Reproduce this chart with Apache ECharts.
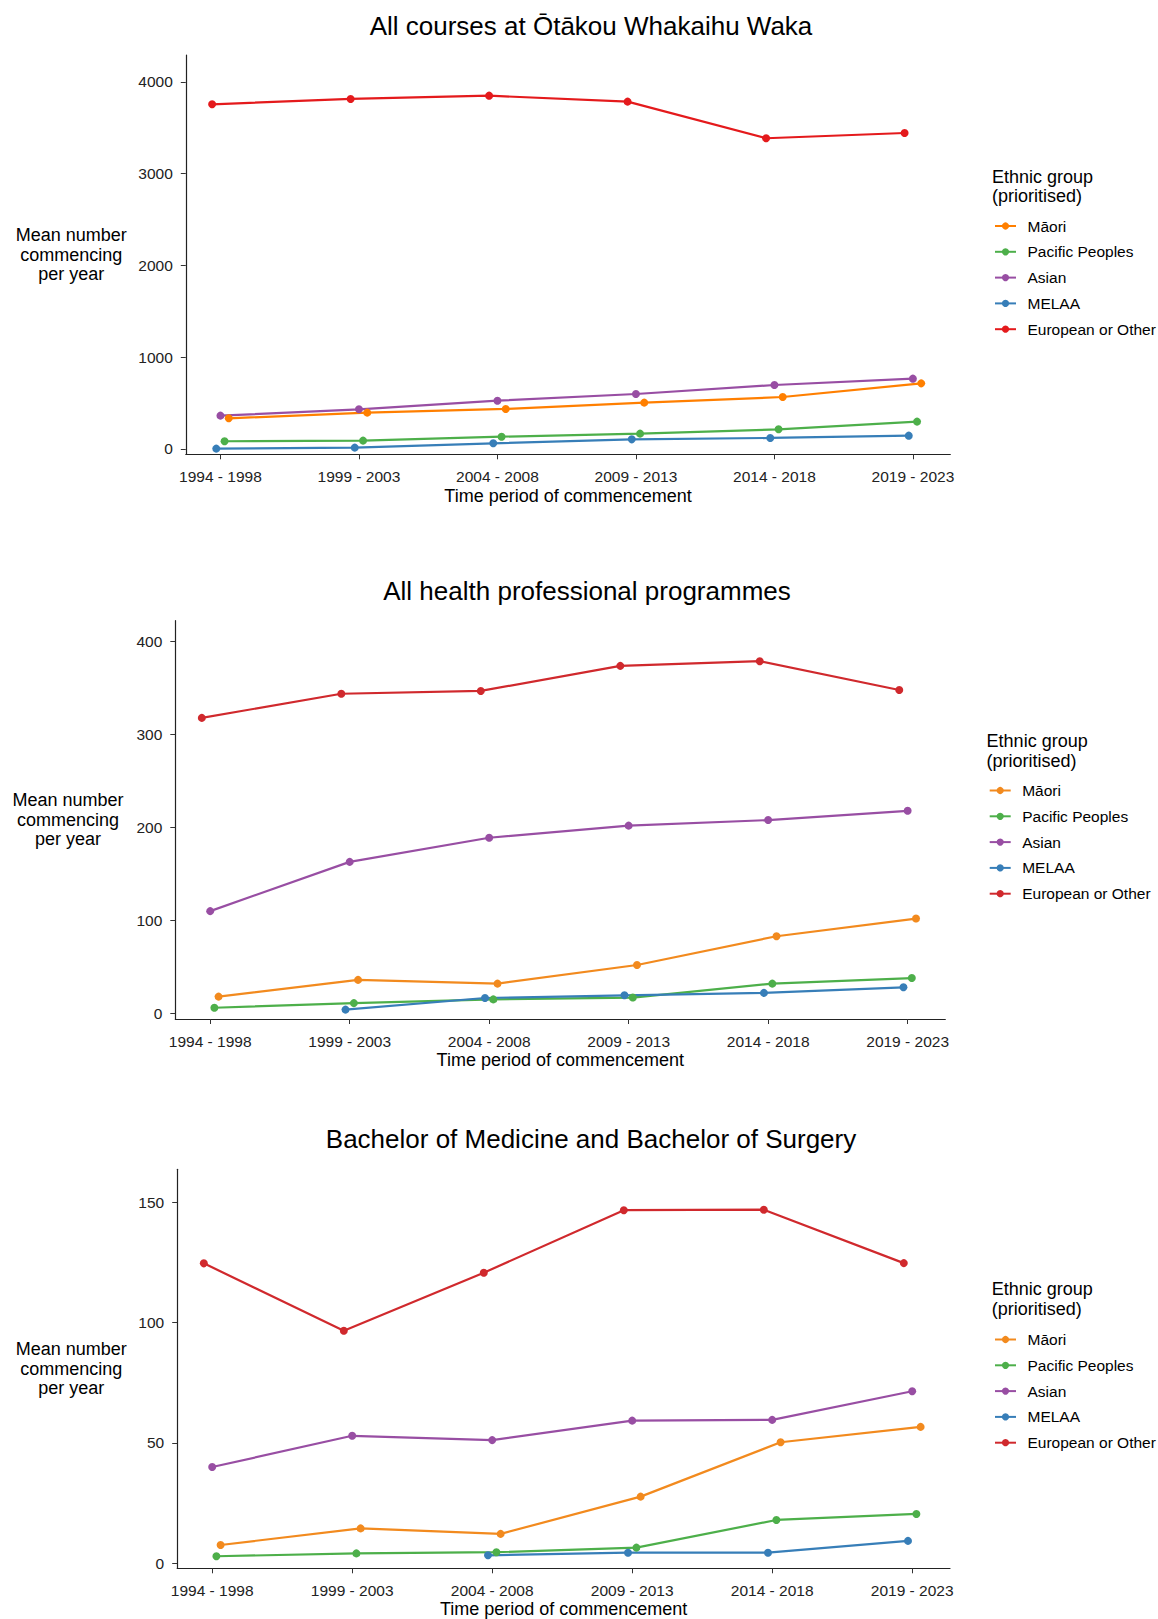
<!DOCTYPE html>
<html>
<head>
<meta charset="utf-8">
<title>Commencing students by ethnic group</title>
<script src="https://cdn.jsdelivr.net/npm/echarts@6/dist/echarts.min.js"></script>
<style>
  html, body { margin: 0; padding: 0; background: #ffffff; }
  #wrap { position: relative; width: 1158px; height: 1619px; }
  .panel { position: absolute; left: 0; width: 1158px; }
</style>
</head>
<body>
<div id="wrap">
  <div id="p1" class="panel" style="top:0;height:545px"></div>
  <div id="p2" class="panel" style="top:545px;height:540px"></div>
  <div id="p3" class="panel" style="top:1085px;height:534px"></div>
</div>
<script>
// Time periods (x categories) and ethnic groups (series)
const PERIODS = ['1994 - 1998', '1999 - 2003', '2004 - 2008', '2009 - 2013', '2014 - 2018', '2019 - 2023'];
const GROUPS = ['Māori', 'Pacific Peoples', 'Asian', 'MELAA', 'European or Other'];

// All courses: mean number commencing per year
const allMaori    = [334, 396, 436, 505, 566, 715];
const allPacific  = [84, 91, 134, 167, 214, 298];
const allAsian    = [363, 432, 526, 599, 697, 766];
const allMelaa    = [4, 15, 62, 105, 120, 145];
const allEuropean = [3755, 3813, 3849, 3784, 3385, 3442];
const allTicks    = [0, 1000, 2000, 3000, 4000];

// All health professional programmes
const healthMaori    = [18, 36, 32, 52, 83, 102];
const healthPacific  = [6, 11, 15, 17, 32, 38];
const healthAsian    = [110, 163, 189, 202, 208, 218];
const healthMelaa    = [null, 4, 16.5, 19.4, 22, 28];
const healthEuropean = [318, 344, 347, 374, 379, 348];
const healthTicks    = [0, 100, 200, 300, 400];

// Bachelor of Medicine and Bachelor of Surgery
const mbchbMaori    = [7.6, 14.5, 12.2, 27.7, 50.3, 56.7];
const mbchbPacific  = [2.9, 4.1, 4.6, 6.5, 18, 20.5];
const mbchbAsian    = [40, 53, 51.2, 59.3, 59.6, 71.5];
const mbchbMelaa    = [null, null, 3.3, 4.4, 4.4, 9.3];
const mbchbEuropean = [124.7, 96.7, 120.8, 146.8, 147, 124.8];
const mbchbTicks    = [0, 50, 100, 150];

// ---- styling / layout ----
const FONT = '"Liberation Sans", Arial, Helvetica, sans-serif';
const DODGE_STEP = 0.03;                 // horizontal dodge between groups (category units)
const DODGE_RANK = [2, 1, 0, -1, -2];    // Māori .. European or Other
const COLORS_A = ['#FF7F00', '#4DAF4A', '#984EA3', '#377EB8', '#E41A1C'];
const COLORS_B = ['#F28A1E', '#4DAF4A', '#984EA3', '#377EB8', '#D0292D'];

function buildPanel(elId, cfg) {
  const chart = echarts.init(document.getElementById(elId), null, { renderer: 'svg' });
  const series = GROUPS.map((g, i) => ({
    name: g,
    type: 'line',
    data: cfg.values[i].map((v, k) => [k + DODGE_RANK[i] * DODGE_STEP, v === null ? '-' : v]),
    symbol: 'circle',
    symbolSize: 8,
    showSymbol: true,
    clip: false,
    silent: true,
    lineStyle: { width: 2.2, color: cfg.colors[i] },
    itemStyle: { color: cfg.colors[i] },
    emphasis: { disabled: true }
  }));

  chart.setOption({
    animation: false,
    backgroundColor: '#ffffff',
    textStyle: { fontFamily: FONT },
    grid: {
      left: cfg.grid.left, top: cfg.grid.top, width: cfg.grid.width, height: cfg.grid.height,
      containLabel: false, outerBoundsMode: 'none'
    },
    xAxis: {
      type: 'value',
      min: -0.25,
      max: 5.27,
      name: 'Time period of commencement',
      nameLocation: 'middle',
      nameGap: cfg.xNameGap,
      nameMoveOverlap: false,
      nameTextStyle: { fontFamily: FONT, fontSize: 18, color: '#000', verticalAlign: 'middle' },
      splitLine: { show: false },
      axisLine: { show: true, onZero: false, lineStyle: { color: '#222', width: 1.2 } },
      axisTick: { show: true, length: 5, lineStyle: { color: '#333' }, customValues: [0, 1, 2, 3, 4, 5] },
      axisLabel: {
        customValues: [0, 1, 2, 3, 4, 5],
        formatter: v => PERIODS[Math.round(v)],
        fontFamily: FONT, fontSize: 15.5, color: '#222', margin: 14
      }
    },
    yAxis: {
      type: 'value',
      min: cfg.yMin,
      max: cfg.yMax,
      name: 'Mean number\ncommencing\nper year',
      nameLocation: 'middle',
      nameRotate: 0,
      nameGap: cfg.yNameGap,
      nameMoveOverlap: false,
      nameTextStyle: { fontFamily: FONT, fontSize: 18, color: '#000', align: 'center', verticalAlign: 'middle', lineHeight: 19.6 },
      splitLine: { show: false },
      axisLine: { show: true, onZero: false, lineStyle: { color: '#222', width: 1.2 } },
      axisTick: { show: true, length: 5, lineStyle: { color: '#333' }, customValues: cfg.ticks },
      axisLabel: {
        customValues: cfg.ticks,
        formatter: v => String(v),
        fontFamily: FONT, fontSize: 15.5, color: '#222', margin: 13
      }
    },
    legend: {
      orient: 'vertical',
      left: cfg.legend.x,
      top: cfg.legend.top,
      padding: 0,
      itemWidth: 21,
      itemHeight: 9,
      itemGap: 9.8,
      selectedMode: false,
      data: GROUPS,
      textStyle: { fontFamily: FONT, fontSize: 15.5, color: '#000', lineHeight: 16, padding: [0, 0, 0, 6.5] }
    },
    graphic: [
      {
        type: 'text', x: cfg.title.x, y: cfg.title.y, silent: true,
        style: {
          text: cfg.title.text, fill: '#000', fontFamily: FONT, fontSize: 26,
          align: 'center', verticalAlign: 'middle', textAlign: 'center', textVerticalAlign: 'middle'
        }
      },
      {
        type: 'text', x: cfg.legendTitle.x, y: cfg.legendTitle.y, silent: true,
        style: {
          text: 'Ethnic group\n(prioritised)', fill: '#000', fontFamily: FONT, fontSize: 18, lineHeight: 19.5,
          align: 'left', verticalAlign: 'top', textAlign: 'left', textVerticalAlign: 'top'
        }
      }
    ],
    series: series
  });
  return chart;
}

buildPanel('p1', {
  values: [allMaori, allPacific, allAsian, allMelaa, allEuropean],
  colors: COLORS_A,
  ticks: allTicks,
  yMin: -58, yMax: 4292,
  grid: { left: 185.8, top: 55, width: 764.5, height: 399.3 },
  xNameGap: 42, yNameGap: 114.6,
  title: { text: 'All courses at Ōtākou Whakaihu Waka', x: 591, y: 26 },
  legendTitle: { x: 992, y: 166.8 },
  legend: { x: 994, top: 218 }
});

buildPanel('p2', {
  values: [healthMaori, healthPacific, healthAsian, healthMelaa, healthEuropean],
  colors: COLORS_B,
  ticks: healthTicks,
  yMin: -6.1, yMax: 422.6,
  grid: { left: 175.3, top: 75.7, width: 770, height: 398.3 },
  xNameGap: 41, yNameGap: 107.3,
  title: { text: 'All health professional programmes', x: 587, y: 46 },
  legendTitle: { x: 986.6, y: 186.3 },
  legend: { x: 988.7, top: 237.5 }
});

buildPanel('p3', {
  values: [mbchbMaori, mbchbPacific, mbchbAsian, mbchbMelaa, mbchbEuropean],
  colors: COLORS_B,
  ticks: mbchbTicks,
  yMin: -2.1, yMax: 163.8,
  grid: { left: 177.2, top: 84.3, width: 772.8, height: 399 },
  xNameGap: 40.7, yNameGap: 106,
  title: { text: 'Bachelor of Medicine and Bachelor of Surgery', x: 591, y: 54 },
  legendTitle: { x: 991.8, y: 194.3 },
  legend: { x: 994, top: 246.5 }
});
</script>
</body>
</html>
